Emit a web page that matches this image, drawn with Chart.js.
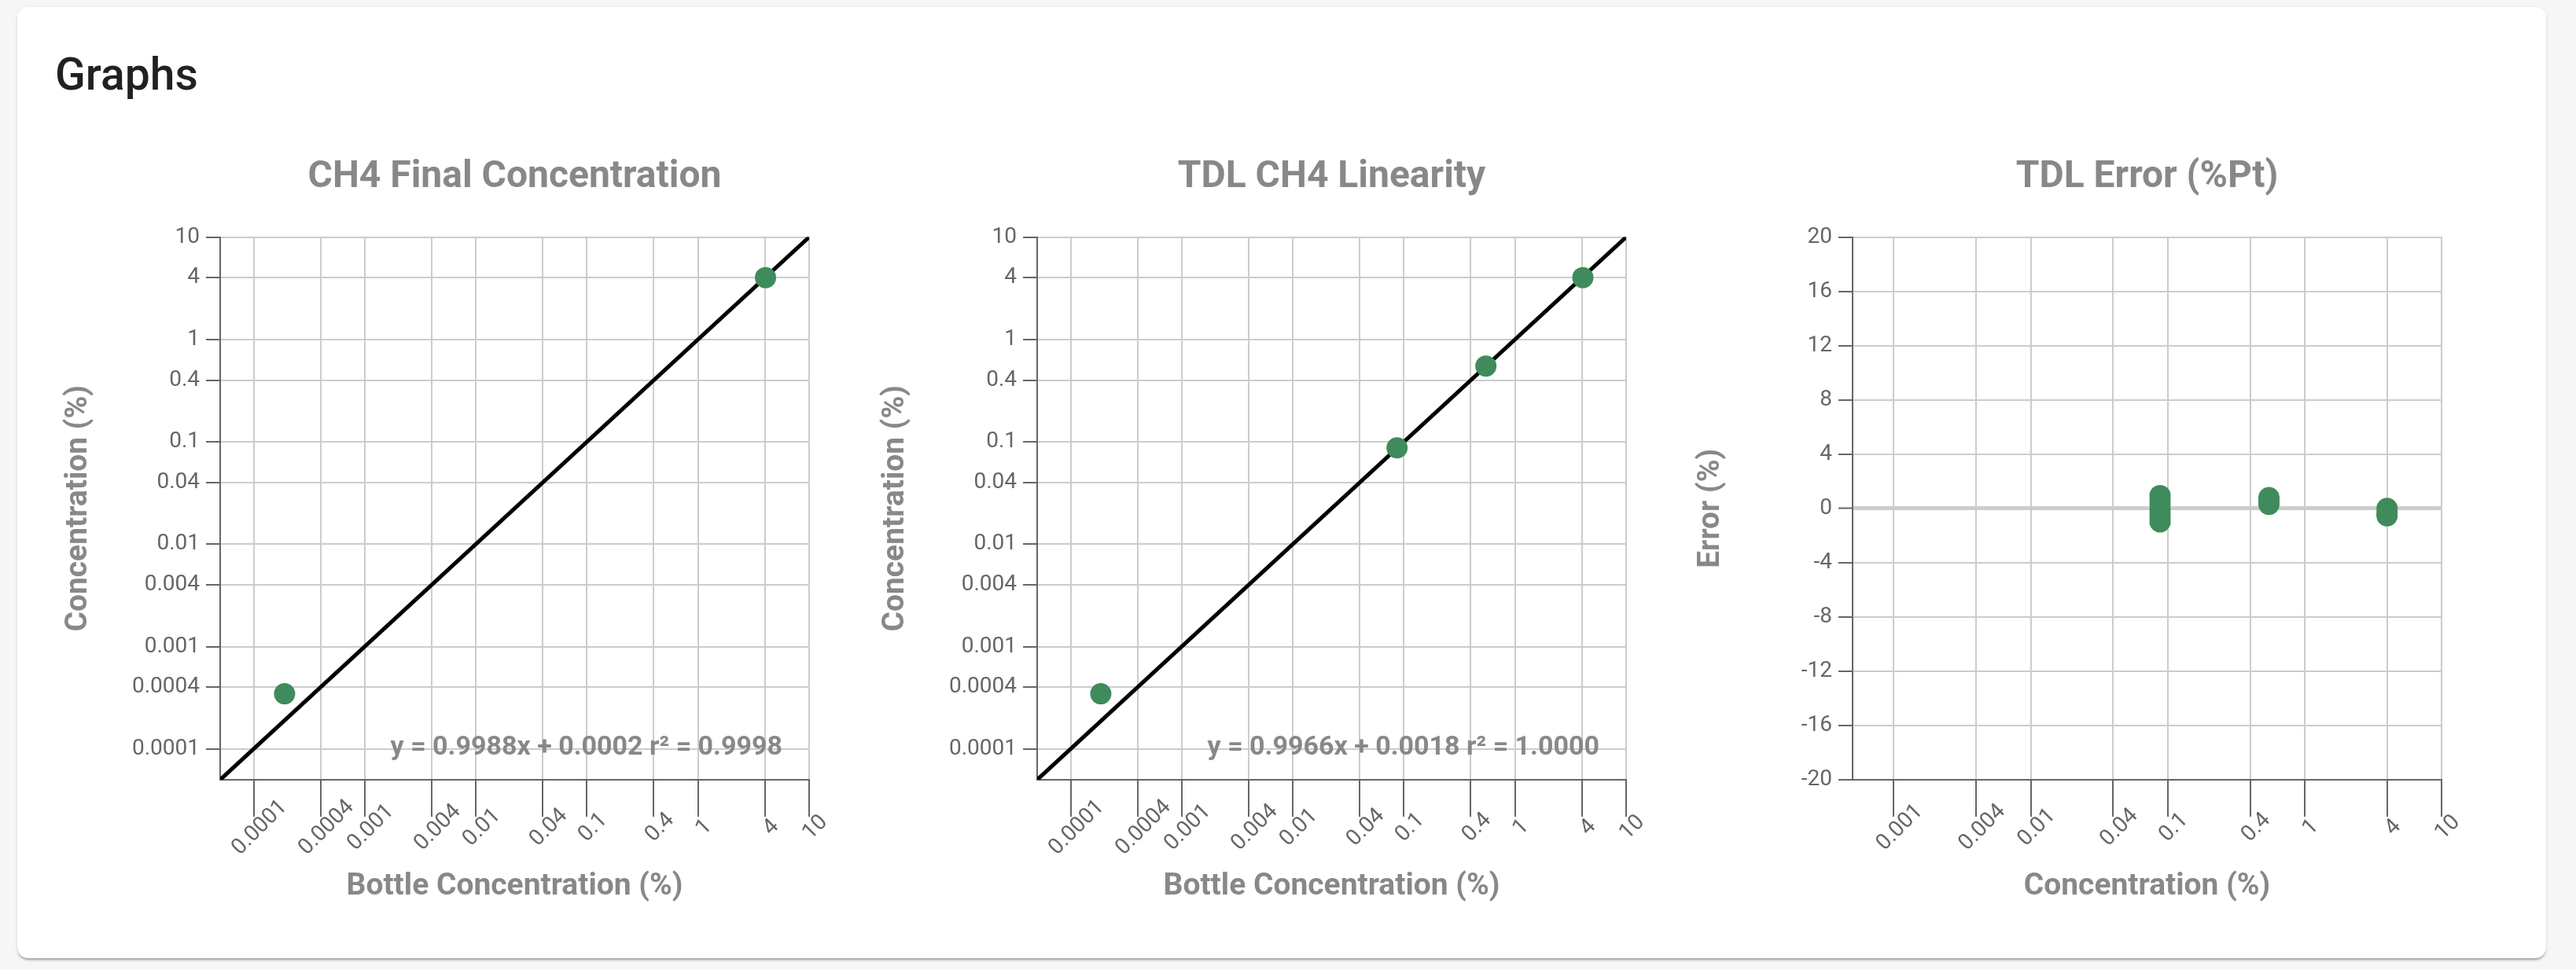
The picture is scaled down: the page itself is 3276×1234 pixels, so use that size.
<!DOCTYPE html>
<html>
<head>
<meta charset="utf-8">
<title>Graphs</title>
<script src="https://cdn.jsdelivr.net/npm/chart.js@4.4.1/dist/chart.umd.min.js"></script>
<style>
  html, body { margin: 0; padding: 0; }
  body {
    width: 3276px; height: 1234px; position: relative; overflow: hidden;
    background: #f6f6f6; font-family: Roboto, sans-serif;
  }
  .card {
    position: absolute; left: 22px; top: 9px; width: 3216px; height: 1210px;
    background: #fff; border-radius: 14px;
    box-shadow: 0 3px 3px -1px rgba(0,0,0,0.35), 0 1px 8px rgba(0,0,0,0.05);
  }
  h2 {
    position: absolute; left: 70px; top: 66px; margin: 0;
    font-size: 57px; line-height: 57px; font-weight: 500; color: #212121;
  }
  canvas { position: absolute; }
</style>
</head>
<body>
<div class="card"></div>
<h2>Graphs</h2>
<canvas id="finalChart" width="1040" height="1050" style="left:60px;top:160px"></canvas>
<canvas id="linearityChart" width="1040" height="1050" style="left:1099px;top:160px"></canvas>
<canvas id="errorChart" width="1040" height="1050" style="left:2136px;top:160px"></canvas>

<script>
// tick values
const concTicks = [0.0001, 0.0004, 0.001, 0.004, 0.01, 0.04, 0.1, 0.4, 1, 4, 10];
const errConcTicks = [0.001, 0.004, 0.01, 0.04, 0.1, 0.4, 1, 4, 10];

// CH4 Final Concentration
const finalBottle = [0.00019, 4.05];
const finalMeasured = [0.000346, 4.02];

// TDL CH4 Linearity
const linBottle = [0.000187, 0.0867, 0.547, 4.08];
const linMeasured = [0.000346, 0.0874, 0.550, 4.02];

// 1:1 reference line
const fitX = [0.00005, 10];
const fitY = [0.00005, 10];

// TDL Error (%Pt)
const errConc = [0.088, 0.088, 0.088, 0.088, 0.088, 0.088, 0.088, 0.549, 0.549, 0.549, 4.0, 4.0, 4.0];
const errPct = [0.95, 0.6, 0.3, -0.1, -0.4, -0.7, -1.0, 0.8, 0.55, 0.3, 0.0, -0.3, -0.55];

const GREEN = '#3f8b5c';
const GRID = '#cccccc';
const AXIS = '#666666';
const TITLE = '#888888';
const TICK_FONT = 28;

function pts(xs, ys) {
    return xs.map((x, i) => ({ x: x, y: ys[i] }));
}

// draws the regression text inside the plot
const fitLabel = {
    id: 'fitLabel',
    afterDatasetsDraw(chart, args, opts) {
        if (!opts.text) return;
        const ctx = chart.ctx;
        const area = chart.chartArea;
        ctx.save();
        ctx.font = 'bold 34px Roboto';
        ctx.fillStyle = TITLE;
        ctx.textAlign = 'right';
        ctx.textBaseline = 'middle';
        ctx.fillText(opts.text, area.right - 34, area.bottom - 41);
        ctx.restore();
    }
};

// x tick labels, slanted 45 degrees and centred under each tick
const slantLabels = {
    id: 'slantLabels',
    afterDraw(chart) {
        const s = chart.scales.x;
        const ctx = chart.ctx;
        ctx.save();
        ctx.font = TICK_FONT + 'px Roboto';
        ctx.fillStyle = AXIS;
        ctx.textAlign = 'center';
        ctx.textBaseline = 'middle';
        s.ticks.forEach(t => {
            const px = s.getPixelForValue(t.value);
            ctx.save();
            ctx.translate(px + 8, s.top + 61);
            ctx.rotate(-Math.PI / 4);
            ctx.fillText(String(t.value), 0, 0);
            ctx.restore();
        });
        ctx.restore();
    }
};

function xAxis(min, max, ticks, title) {
    return {
        type: 'logarithmic',
        position: 'bottom',
        min: min,
        max: max,
        afterBuildTicks: s => { s.ticks = ticks.map(v => ({ value: v })); },
        afterFit: s => { s.height = 218; },
        ticks: { display: false, autoSkip: false },
        grid: { color: GRID, lineWidth: 2, tickColor: AXIS, tickLength: 47, tickWidth: 2 },
        border: { color: AXIS, width: 2 },
        title: {
            display: true, text: title, color: TITLE,
            font: { family: 'Roboto', size: 39, weight: 'bold' },
            padding: { top: 0, bottom: 58 }
        }
    };
}

function yAxis(extra, title) {
    return Object.assign({
        position: 'left',
        afterFit: s => { s.width = 220; },
        grid: { color: GRID, lineWidth: 2, tickColor: AXIS, tickLength: 18, tickWidth: 2 },
        border: { color: AXIS, width: 2 },
        title: {
            display: true, text: title, color: TITLE,
            font: { family: 'Roboto', size: 39, weight: 'bold' },
            padding: { top: 17, bottom: 0 }
        }
    }, extra);
}

function logY(min, max, ticks, title) {
    return yAxis({
        type: 'logarithmic',
        min: min,
        max: max,
        afterBuildTicks: s => { s.ticks = ticks.map(v => ({ value: v })); },
        ticks: {
            autoSkip: false, padding: 8,
            color: AXIS, font: { family: 'Roboto', size: TICK_FONT },
            callback: v => String(v)
        }
    }, title);
}

function baseOptions(title, scales, fitText) {
    return {
        responsive: false,
        maintainAspectRatio: false,
        animation: false,
        layout: { padding: { left: 0, right: 71, top: 0, bottom: 0 } },
        scales: scales,
        plugins: {
            legend: { display: false },
            tooltip: { enabled: false },
            title: {
                display: true, text: title, color: TITLE, fullSize: false,
                font: { family: 'Roboto', size: 48, weight: 'bold' },
                padding: { top: 37, bottom: 47 }
            },
            fitLabel: { text: fitText }
        }
    };
}

function pointSet(data) {
    return {
        data: data,
        backgroundColor: GREEN,
        borderColor: GREEN,
        borderWidth: 0,
        pointRadius: 13.5
    };
}

function lineSet(data) {
    return {
        data: data,
        showLine: true,
        borderColor: '#000',
        borderWidth: 5,
        pointRadius: 0
    };
}

function buildCharts() {
    new Chart(document.getElementById('finalChart'), {
        type: 'scatter',
        data: {
            datasets: [
                pointSet(pts(finalBottle, finalMeasured)),
                lineSet(pts(fitX, fitY))
            ]
        },
        options: baseOptions('CH4 Final Concentration', {
            x: xAxis(0.00005, 10, concTicks, 'Bottle Concentration (%)'),
            y: logY(0.00005, 10, concTicks, 'Concentration (%)')
        }, 'y = 0.9988x + 0.0002 r² = 0.9998'),
        plugins: [fitLabel, slantLabels]
    });

    new Chart(document.getElementById('linearityChart'), {
        type: 'scatter',
        data: {
            datasets: [
                pointSet(pts(linBottle, linMeasured)),
                lineSet(pts(fitX, fitY))
            ]
        },
        options: baseOptions('TDL CH4 Linearity', {
            x: xAxis(0.00005, 10, concTicks, 'Bottle Concentration (%)'),
            y: logY(0.00005, 10, concTicks, 'Concentration (%)')
        }, 'y = 0.9966x + 0.0018 r² = 1.0000'),
        plugins: [fitLabel, slantLabels]
    });

    const errY = yAxis({
        type: 'linear',
        min: -20,
        max: 20,
        ticks: {
            stepSize: 4, padding: 8,
            color: AXIS, font: { family: 'Roboto', size: TICK_FONT }
        }
    }, 'Error (%)');
    errY.grid.lineWidth = ctx => (ctx.tick && ctx.tick.value === 0 ? 5 : 2);

    new Chart(document.getElementById('errorChart'), {
        type: 'scatter',
        data: {
            datasets: [pointSet(pts(errConc, errPct))]
        },
        options: baseOptions('TDL Error (%Pt)', {
            x: xAxis(0.0005, 10, errConcTicks, 'Concentration (%)'),
            y: errY
        }, ''),
        plugins: [fitLabel, slantLabels]
    });
}

if (document.fonts && document.fonts.load) {
    Promise.all([
        document.fonts.load('26px Roboto'),
        document.fonts.load('bold 36px Roboto')
    ]).then(buildCharts, buildCharts);
} else {
    buildCharts();
}
</script>
</body>
</html>
